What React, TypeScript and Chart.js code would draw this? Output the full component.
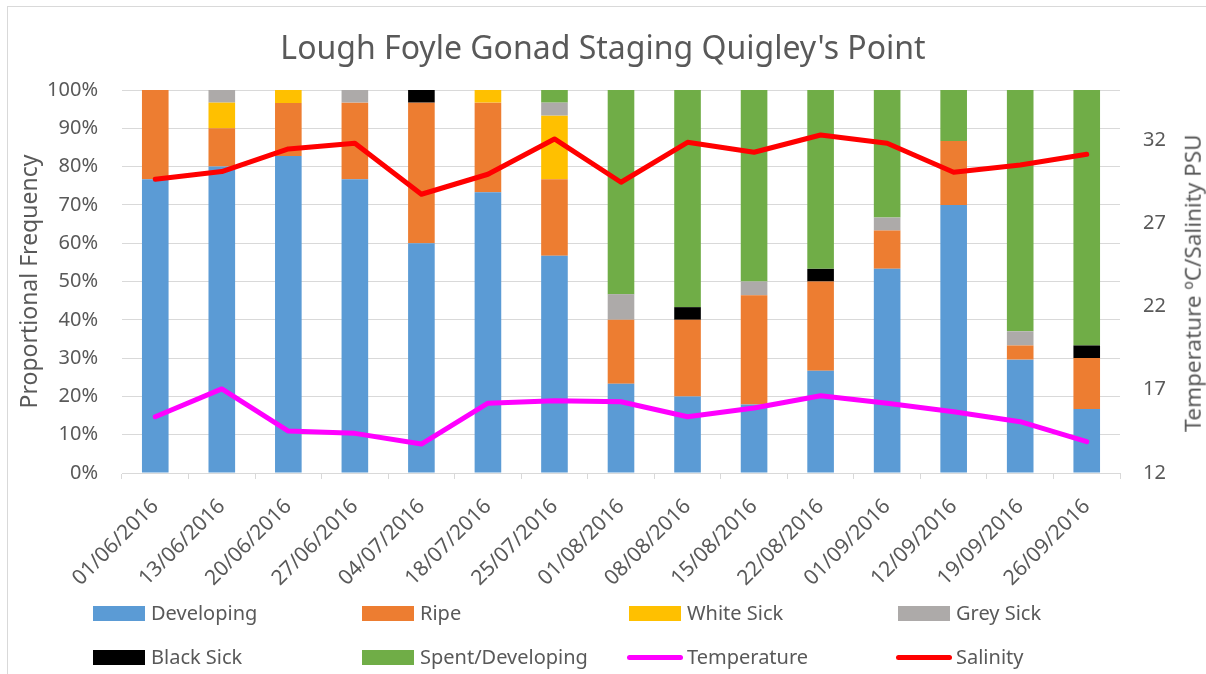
import React, { useEffect, useRef } from "react";
import { Chart, registerables } from "chart.js";

Chart.register(...registerables);

const categories = [
  "01/06/2016", "13/06/2016", "20/06/2016", "27/06/2016", "04/07/2016",
  "18/07/2016", "25/07/2016", "01/08/2016", "08/08/2016", "15/08/2016",
  "22/08/2016", "01/09/2016", "12/09/2016", "19/09/2016", "26/09/2016",
];

const developing = [76.7, 80, 82.8, 76.7, 60, 73.3, 56.7, 23.3, 20, 17.9, 26.7, 53.3, 70, 29.6, 16.7];
const ripe = [23.3, 10, 13.8, 20, 36.7, 23.4, 20, 16.7, 20, 28.5, 23.3, 10, 16.7, 3.7, 13.3];
const whiteSick = [0, 6.7, 3.4, 0, 0, 3.3, 16.6, 0, 0, 0, 0, 0, 0, 0, 0];
const greySick = [0, 3.3, 0, 3.3, 0, 0, 3.4, 6.7, 0, 3.6, 0, 3.4, 0, 3.7, 0];
const blackSick = [0, 0, 0, 0, 3.3, 0, 0, 0, 3.3, 0, 3.3, 0, 0, 0, 3.3];
const spentDeveloping = [0, 0, 0, 0, 0, 0, 3.3, 53.3, 56.7, 50, 46.7, 33.3, 13.3, 63, 66.7];

const temperature = [15.38, 17.05, 14.52, 14.38, 13.74, 16.19, 16.34, 16.28, 15.38, 15.9, 16.64, 16.19, 15.68, 15.08, 13.88];
const salinity = [29.64, 30.1, 31.46, 31.8, 28.74, 29.94, 32.06, 29.46, 31.86, 31.26, 32.3, 31.8, 30.06, 30.5, 31.14];

const rightTicks = [12, 17, 22, 27, 32];

const TITLE = "Lough Foyle Gonad Staging Quigley's Point";
const LEFT_TITLE = "Proportional Frequency";
const RIGHT_TITLE = "Temperature ºC/Salinity PSU";

const FONT = "'Noto Sans', 'Open Sans', sans-serif";
const TEXT = "#595959";
const GRID = "#D9D9D9";

const barSeries = [
  { label: "Developing", data: developing, color: "#5B9BD5" },
  { label: "Ripe", data: ripe, color: "#ED7D31" },
  { label: "White Sick", data: whiteSick, color: "#FFC000" },
  { label: "Grey Sick", data: greySick, color: "#ADAAA9" },
  { label: "Black Sick", data: blackSick, color: "#000000" },
  { label: "Spent/Developing", data: spentDeveloping, color: "#70AD47" },
];
const lineSeries = [
  { label: "Temperature", data: temperature, color: "#FF00FF" },
  { label: "Salinity", data: salinity, color: "#FF0000" },
];

const legendItems = [
  { label: "Developing", color: "#5B9BD5", line: false },
  { label: "Ripe", color: "#ED7D31", line: false },
  { label: "White Sick", color: "#FFC000", line: false },
  { label: "Grey Sick", color: "#ADAAA9", line: false },
  { label: "Black Sick", color: "#000000", line: false },
  { label: "Spent/Developing", color: "#70AD47", line: false },
  { label: "Temperature", color: "#FF00FF", line: true },
  { label: "Salinity", color: "#FF0000", line: true },
];

export default function App() {
  const ref = useRef<HTMLCanvasElement | null>(null);

  useEffect(() => {
    if (!ref.current) return;
    const datasets: any[] = [
      ...barSeries.map((s) => ({
        type: "bar",
        label: s.label,
        data: s.data,
        backgroundColor: s.color,
        borderWidth: 0,
        yAxisID: "y",
        order: 1,
        barPercentage: 0.4,
        categoryPercentage: 1,
      })),
      ...lineSeries.map((s) => ({
        type: "line",
        label: s.label,
        data: s.data,
        borderColor: s.color,
        backgroundColor: s.color,
        borderWidth: 5,
        pointRadius: 0,
        borderCapStyle: "round",
        borderJoinStyle: "round",
        tension: 0,
        fill: false,
        yAxisID: "y1",
        order: 0,
      })),
    ];

    const chart = new Chart(ref.current, {
      type: "bar",
      data: { labels: categories, datasets },
      options: {
        responsive: false,
        animation: false,
        devicePixelRatio: 1,
        layout: { padding: { left: 0, right: 0, top: 0, bottom: 0 } },
        plugins: {
          legend: { display: false },
          tooltip: { enabled: false },
          title: {
            display: true,
            text: TITLE,
            color: TEXT,
            font: { family: FONT, size: 32, weight: "normal" },
            padding: { top: 31, bottom: 20.6 },
          },
        },
        scales: {
          x: {
            stacked: true,
            offset: true,
            grid: {
              offset: true,
              drawOnChartArea: false,
              drawTicks: true,
              tickLength: 6,
              color: GRID,
            },
            border: { display: true, color: GRID },
            ticks: {
              color: TEXT,
              font: { family: FONT, size: 21 },
              minRotation: 45,
              maxRotation: 45,
              autoSkip: false,
              padding: 15,
            },
            afterFit: (scale: any) => {
              scale.height = 201;
            },
          },
          y: {
            stacked: true,
            position: "left",
            min: 0,
            max: 100,
            ticks: {
              stepSize: 10,
              color: TEXT,
              font: { family: FONT, size: 20 },
              padding: 24,
              callback: (v: any) => v + "%",
            },
            grid: { color: GRID, drawTicks: false, lineWidth: 1 },
            border: { display: false },
            title: {
              display: true,
              text: LEFT_TITLE,
              color: TEXT,
              font: { family: FONT, size: 23, weight: "normal" },
              padding: { top: 17, bottom: 0 },
            },
            afterFit: (scale: any) => {
              scale.width = 122;
            },
          },
          y1: {
            position: "right",
            min: 12,
            max: 35,
            ticks: {
              color: TEXT,
              font: { family: FONT, size: 20 },
              padding: 23,
              callback: (v: any) => String(v),
            },
            afterBuildTicks: (scale: any) => {
              scale.ticks = rightTicks.map((v) => ({ value: v }));
            },
            grid: { display: false, drawTicks: false },
            border: { display: false },
            afterFit: (scale: any) => {
              scale.width = 86;
            },
          },
        },
      } as any,
    });
    return () => chart.destroy();
  }, []);

  const colLeft = [93, 362, 629, 898];
  const rowCenter = [613, 657];

  return (
    <div
      style={{
        position: "fixed",
        left: 0,
        top: 0,
        width: 1206,
        height: 674,
        overflow: "hidden",
        background: "#fff",
      }}
    >
      <div
        style={{
          position: "absolute",
          left: 7,
          top: 6,
          width: 1400,
          height: 900,
          borderLeft: `1px solid ${GRID}`,
          borderTop: `1px solid ${GRID}`,
        }}
      />
      <canvas
        ref={ref}
        width={1206}
        height={674}
        style={{ position: "absolute", left: 0, top: 0, width: 1206, height: 674 }}
      />
      <div
        style={{
          position: "absolute",
          left: 1193,
          top: 283,
          transform: "translate(-50%, -50%) rotate(-90deg)",
          whiteSpace: "nowrap",
          fontFamily: FONT,
          fontSize: 22.5,
          color: TEXT,
          lineHeight: 1,
        }}
      >
        {RIGHT_TITLE}
      </div>
      {legendItems.map((it, i) => {
        const col = i % 4;
        const row = Math.floor(i / 4);
        const left = colLeft[col];
        const cy = rowCenter[row];
        return (
          <div key={it.label}>
            {it.line ? (
              <div
                style={{
                  position: "absolute",
                  left: left - 2,
                  top: cy - 2.5,
                  width: 56,
                  height: 5,
                  borderRadius: 3,
                  background: it.color,
                }}
              />
            ) : (
              <div
                style={{
                  position: "absolute",
                  left: left,
                  top: cy - 7.5,
                  width: 52,
                  height: 15,
                  background: it.color,
                }}
              />
            )}
            <div
              style={{
                position: "absolute",
                left: left + 58,
                top: cy,
                transform: "translateY(-50%)",
                whiteSpace: "nowrap",
                fontFamily: FONT,
                fontSize: 20,
                color: TEXT,
                lineHeight: 1.2,
              }}
            >
              {it.label}
            </div>
          </div>
        );
      })}
    </div>
  );
}
